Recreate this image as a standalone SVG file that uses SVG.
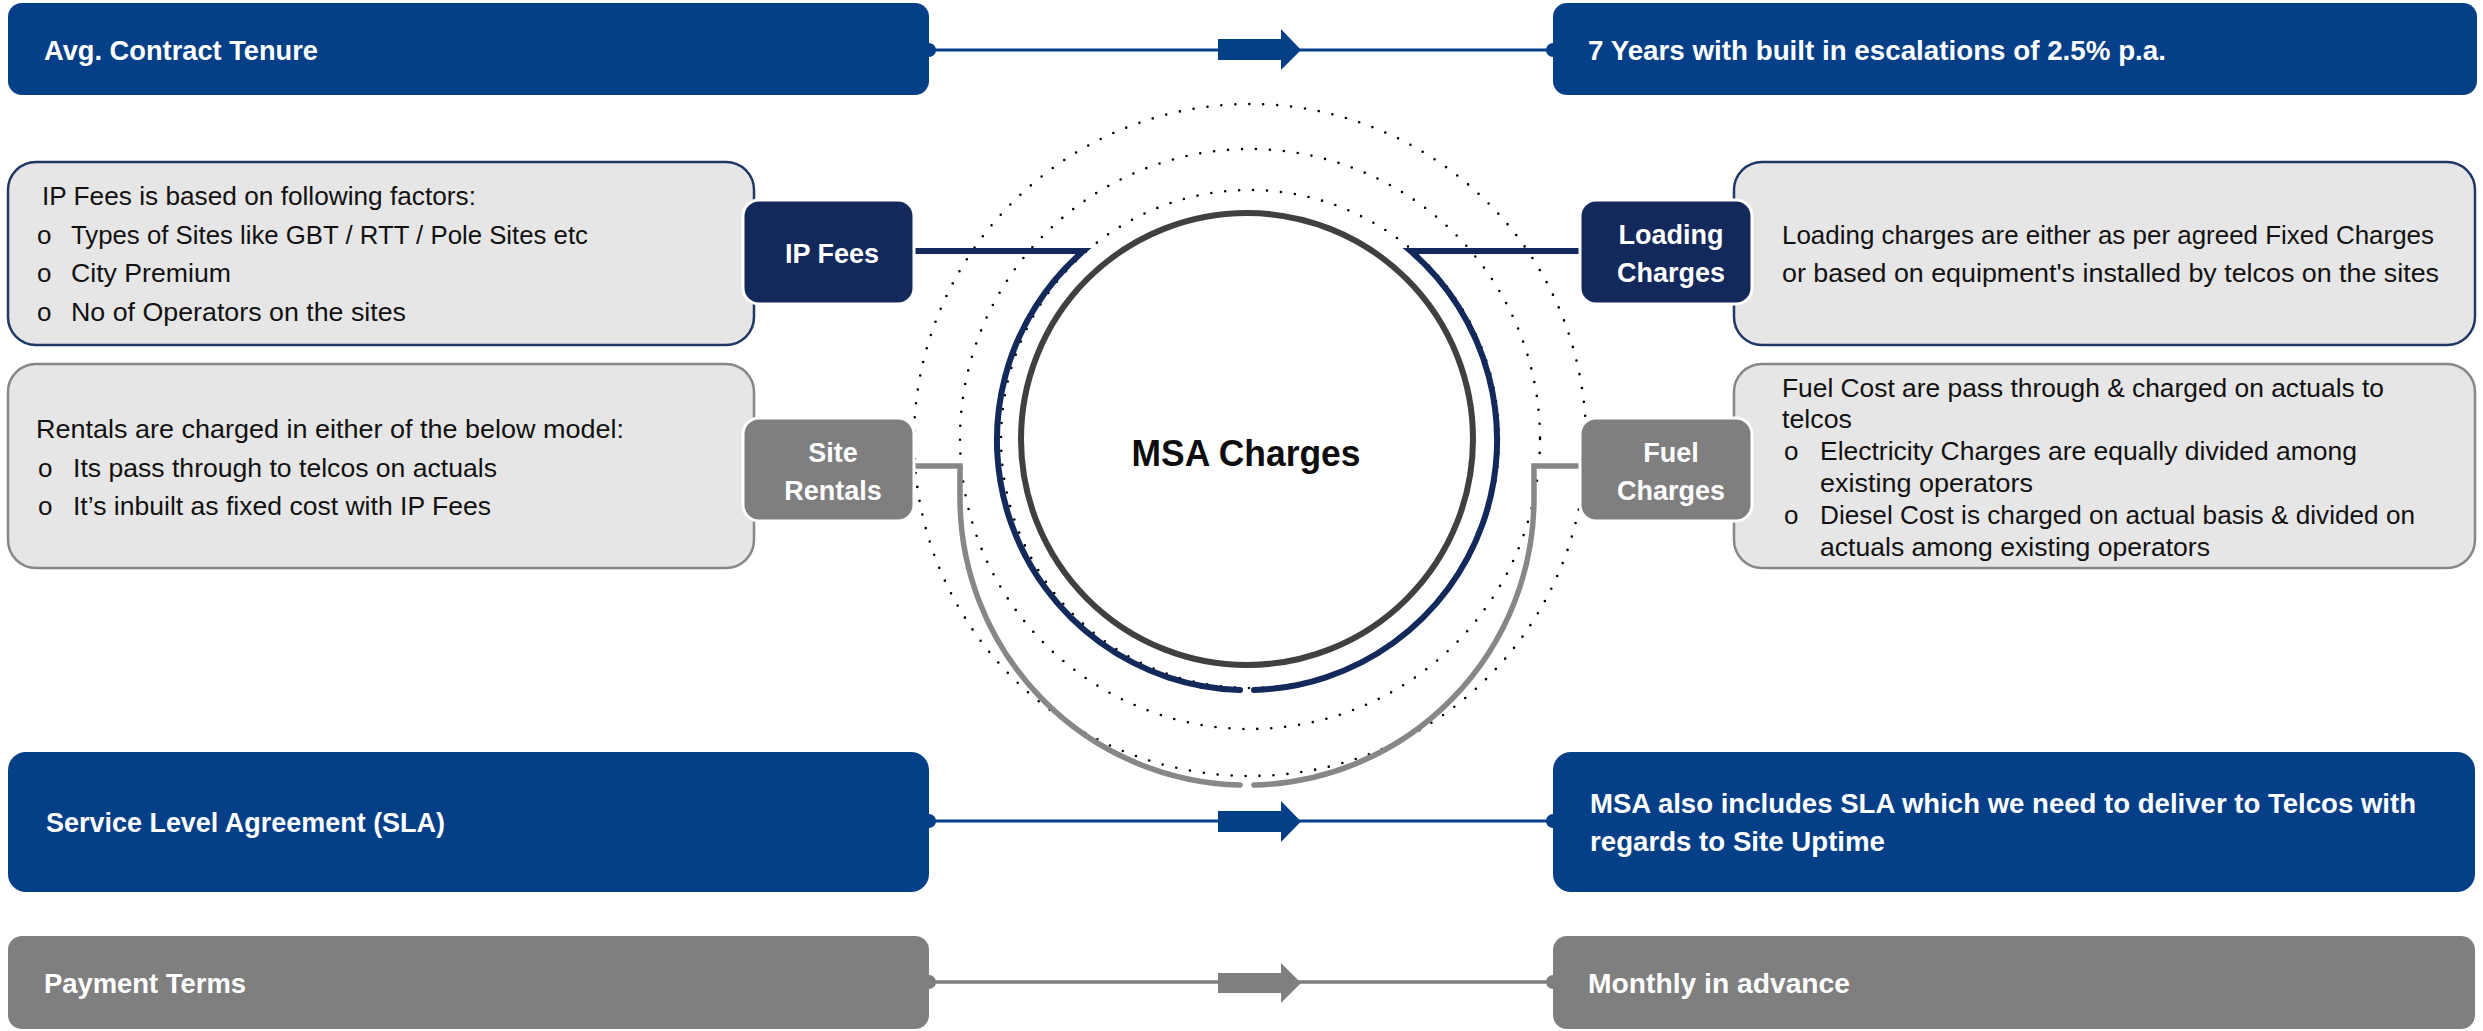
<svg xmlns="http://www.w3.org/2000/svg" width="2483" height="1031" viewBox="0 0 2483 1031">
  <defs>
    <style>
      .f { font-family: "Liberation Sans", Arial, sans-serif; }
      .hdr { font-weight: 700; font-size: 27px; fill: #ffffff; }
      .lbl { font-weight: 700; font-size: 27px; fill: #ffffff; text-anchor: middle; }
      .body { font-size: 26px; fill: #111111; }
      .blue { fill: #053F88; }
      .grey { fill: #7F7F7F; }
      .navy { fill: #13285B; stroke: #ffffff; stroke-width: 3; }
      .lgrey { fill: #7F7F7F; stroke: #ffffff; stroke-width: 3; }
      .descN { fill: #E7E6E6; stroke: #1F3864; stroke-width: 2.5; }
      .descG { fill: #E7E6E6; stroke: #878787; stroke-width: 2.5; }
      .ring { fill: none; stroke: #000000; stroke-width: 2.6; stroke-dasharray: 0 14; stroke-linecap: round; }
    </style>
  </defs>
  <rect width="2483" height="1031" fill="#ffffff"/>

  <!-- dotted rings around the centre -->
  <g id="rings">
    <circle class="ring" cx="1250" cy="440" r="336"/>
    <circle class="ring" cx="1250" cy="439" r="290"/>
    <circle class="ring" cx="1250" cy="439" r="249"/>
  </g>

  <!-- connectors -->
  <g id="connectors">
    <!-- contract tenure -->
    <line x1="929" y1="50" x2="1553" y2="50" stroke="#053F88" stroke-width="3"/>
    <circle cx="929" cy="50" r="7" fill="#053F88"/>
    <circle cx="1553" cy="50" r="7" fill="#053F88"/>
    <polygon points="1218,39 1281,39 1281,29 1301,50 1281,70 1281,60 1218,60" fill="#053F88"/>
    <!-- SLA -->
    <line x1="929" y1="821" x2="1553" y2="821" stroke="#053F88" stroke-width="3"/>
    <circle cx="929" cy="821" r="7" fill="#053F88"/>
    <circle cx="1553" cy="821" r="7" fill="#053F88"/>
    <polygon points="1218,811 1281,811 1281,801 1301,821.5 1281,842 1281,832 1218,832" fill="#053F88"/>
    <!-- payment -->
    <line x1="929" y1="982" x2="1553" y2="982" stroke="#7F7F7F" stroke-width="3.5"/>
    <circle cx="929" cy="982" r="7" fill="#7F7F7F"/>
    <circle cx="1553" cy="982" r="7" fill="#7F7F7F"/>
    <polygon points="1218,973 1281,973 1281,963 1301,983 1281,1003 1281,993 1218,993" fill="#7F7F7F"/>
    <!-- IP fees / loading charges arcs -->
    <path d="M914,251 H1083.4 A250,250 0 0 0 1240,690" fill="none" stroke="#13285B" stroke-width="6" stroke-linecap="round"/>
    <path d="M1580,251 H1410.6 A250,250 0 0 1 1254,690" fill="none" stroke="#13285B" stroke-width="6" stroke-linecap="round"/>
    <!-- site rentals / fuel charges arcs -->
    <path d="M914,466 H960 V498 A287,287 0 0 0 1240,785" fill="none" stroke="#878787" stroke-width="5.5" stroke-linecap="round"/>
    <path d="M1580,466 H1534 V498 A287,287 0 0 1 1254,785" fill="none" stroke="#878787" stroke-width="5.5" stroke-linecap="round"/>
  </g>

  <!-- centre -->
  <g id="msa-charges">
    <circle cx="1247" cy="439" r="226" fill="#ffffff" stroke="#404040" stroke-width="6"/>
    <text class="f" x="1246" y="466" font-size="37" font-weight="700" fill="#0D0D0D" text-anchor="middle" textLength="229" lengthAdjust="spacingAndGlyphs">MSA Charges</text>
  </g>

  <!-- top row -->
  <g id="tenure">
    <rect class="blue" x="8" y="3" width="921" height="92" rx="14"/>
    <text class="f hdr" x="44" y="60" textLength="274" lengthAdjust="spacingAndGlyphs">Avg. Contract Tenure</text>
  </g>
  <g id="tenure-value">
    <rect class="blue" x="1553" y="3" width="924" height="92" rx="14"/>
    <text class="f hdr" x="1588" y="60" textLength="578" lengthAdjust="spacingAndGlyphs">7 Years with built in escalations of 2.5% p.a.</text>
  </g>

  <!-- IP fees -->
  <g id="ip-fees-detail">
    <rect class="descN" x="8" y="162" width="746" height="183" rx="28"/>
    <text class="f body" x="42" y="205" textLength="434" lengthAdjust="spacingAndGlyphs">IP Fees is based on following factors:</text>
    <text class="f body" x="37" y="244">o</text>
    <text class="f body" x="71" y="244" textLength="517" lengthAdjust="spacingAndGlyphs">Types of Sites like GBT / RTT / Pole Sites etc</text>
    <text class="f body" x="37" y="282">o</text>
    <text class="f body" x="71" y="282" textLength="160" lengthAdjust="spacingAndGlyphs">City Premium</text>
    <text class="f body" x="37" y="321">o</text>
    <text class="f body" x="71" y="321" textLength="335" lengthAdjust="spacingAndGlyphs">No of Operators on the sites</text>
  </g>
  <g id="ip-fees">
    <rect class="navy" x="743" y="200" width="171" height="104" rx="16"/>
    <text class="f lbl" x="832" y="263">IP Fees</text>
  </g>

  <!-- site rentals -->
  <g id="site-rentals-detail">
    <rect class="descG" x="8" y="364" width="746" height="204" rx="28"/>
    <text class="f body" x="36" y="438" textLength="588" lengthAdjust="spacingAndGlyphs">Rentals are charged in either of the below model:</text>
    <text class="f body" x="38" y="477">o</text>
    <text class="f body" x="73" y="477" textLength="424" lengthAdjust="spacingAndGlyphs">Its pass through to telcos on actuals</text>
    <text class="f body" x="38" y="515">o</text>
    <text class="f body" x="73" y="515" textLength="418" lengthAdjust="spacingAndGlyphs">It’s inbuilt as fixed cost with IP Fees</text>
  </g>
  <g id="site-rentals">
    <rect class="lgrey" x="743" y="418" width="171" height="103" rx="16"/>
    <text class="f lbl" x="833" y="462">Site</text>
    <text class="f lbl" x="833" y="500">Rentals</text>
  </g>

  <!-- loading charges -->
  <g id="loading-charges-detail">
    <rect class="descN" x="1734" y="162" width="741" height="183" rx="28"/>
    <text class="f body" x="1782" y="244" textLength="652" lengthAdjust="spacingAndGlyphs">Loading charges are either as per agreed Fixed Charges</text>
    <text class="f body" x="1782" y="282" textLength="657" lengthAdjust="spacingAndGlyphs">or based on equipment's installed by telcos on the sites</text>
  </g>
  <g id="loading-charges">
    <rect class="navy" x="1580" y="200" width="172" height="104" rx="16"/>
    <text class="f lbl" x="1671" y="244">Loading</text>
    <text class="f lbl" x="1671" y="282">Charges</text>
  </g>

  <!-- fuel charges -->
  <g id="fuel-charges-detail">
    <rect class="descG" x="1734" y="364" width="741" height="204" rx="28"/>
    <text class="f body" x="1782" y="397" textLength="602" lengthAdjust="spacingAndGlyphs">Fuel Cost are pass through &amp; charged on actuals to</text>
    <text class="f body" x="1782" y="428" textLength="70" lengthAdjust="spacingAndGlyphs">telcos</text>
    <text class="f body" x="1784" y="460">o</text>
    <text class="f body" x="1820" y="460" textLength="537" lengthAdjust="spacingAndGlyphs">Electricity Charges are equally divided among</text>
    <text class="f body" x="1820" y="492" textLength="213" lengthAdjust="spacingAndGlyphs">existing operators</text>
    <text class="f body" x="1784" y="524">o</text>
    <text class="f body" x="1820" y="524" textLength="595" lengthAdjust="spacingAndGlyphs">Diesel Cost is charged on actual basis &amp; divided on</text>
    <text class="f body" x="1820" y="556" textLength="390" lengthAdjust="spacingAndGlyphs">actuals among existing operators</text>
  </g>
  <g id="fuel-charges">
    <rect class="lgrey" x="1580" y="418" width="172" height="103" rx="16"/>
    <text class="f lbl" x="1671" y="462">Fuel</text>
    <text class="f lbl" x="1671" y="500">Charges</text>
  </g>

  <!-- SLA row -->
  <g id="sla">
    <rect class="blue" x="8" y="752" width="921" height="140" rx="18"/>
    <text class="f hdr" x="46" y="832" textLength="399" lengthAdjust="spacingAndGlyphs">Service Level Agreement (SLA)</text>
  </g>
  <g id="sla-value">
    <rect class="blue" x="1553" y="752" width="922" height="140" rx="18"/>
    <text class="f hdr" x="1590" y="813" textLength="826" lengthAdjust="spacingAndGlyphs">MSA also includes SLA which we need to deliver to Telcos with</text>
    <text class="f hdr" x="1590" y="851" textLength="295" lengthAdjust="spacingAndGlyphs">regards to Site Uptime</text>
  </g>

  <!-- payment row -->
  <g id="payment">
    <rect class="grey" x="8" y="936" width="921" height="93" rx="14"/>
    <text class="f hdr" x="44" y="993" textLength="202" lengthAdjust="spacingAndGlyphs">Payment Terms</text>
  </g>
  <g id="payment-value">
    <rect class="grey" x="1553" y="936" width="922" height="93" rx="14"/>
    <text class="f hdr" x="1588" y="993" textLength="262" lengthAdjust="spacingAndGlyphs">Monthly in advance</text>
  </g>
</svg>
